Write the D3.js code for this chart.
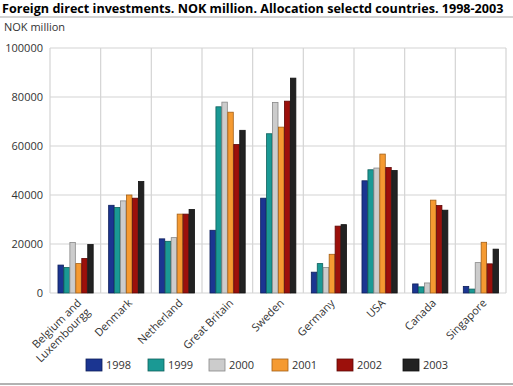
<!DOCTYPE html>
<html>
<head>
<meta charset="utf-8">
<script src="https://cdn.jsdelivr.net/npm/d3@7"></script>
<style>
  body { margin: 0; background: #fff; }
  svg { font-family: "Open Sans", "Noto Sans", sans-serif; }
</style>
</head>
<body>
<svg id="chart"></svg>
<script>
const countries = ["Belgium and\nLuxembourgg", "Denmark", "Netherland", "Great Britain", "Sweden", "Germany", "USA", "Canada", "Singapore"];
const years = ["1998", "1999", "2000", "2001", "2002", "2003"];
const colors = ["#1b3591", "#1a9994", "#cccccc", "#f59a31", "#9c100b", "#222222"];
const strokes = ["#0e1e5a", "#0d5f5b", "#888888", "#a45f15", "#5e0806", "#111111"];
const yTicks = [0, 20000, 40000, 60000, 80000, 100000];

// NOK million, one array per year, in country order
const v1998 = [11400, 35800, 22100, 25600, 38700, 8500, 45800, 3700, 2700];
const v1999 = [10400, 34900, 21100, 76000, 65000, 12000, 50300, 2500, 1600];
const v2000 = [20600, 37600, 22600, 77900, 77800, 10400, 51000, 4100, 12400];
const v2001 = [12000, 40000, 32200, 73800, 67700, 15800, 56700, 37900, 20700];
const v2002 = [14100, 38700, 32200, 60600, 78300, 27300, 51200, 35700, 11900];
const v2003 = [19800, 45500, 34100, 66400, 87700, 27900, 50000, 33800, 17900];
const series = [v1998, v1999, v2000, v2001, v2002, v2003];

const width = 513, height = 386;
const margin = {top: 48, right: 7, bottom: 93, left: 50};

const svg = d3.select("#chart").attr("width", width).attr("height", height);

// title and rules
svg.append("text").attr("x", 2).attr("y", 13)
    .attr("font-size", 12.6).attr("font-weight", "bold").attr("fill", "#000")
    .text("Foreign direct investments. NOK million. Allocation selectd countries. 1998-2003");
svg.append("line").attr("x1", 0).attr("x2", width).attr("y1", 17).attr("y2", 17)
    .attr("stroke", "#aaa").attr("stroke-width", 1.2);
svg.append("line").attr("x1", 0).attr("x2", width).attr("y1", 384).attr("y2", 384)
    .attr("stroke", "#999").attr("stroke-width", 1.5);
svg.append("text").attr("x", 4).attr("y", 31)
    .attr("font-size", 11).attr("fill", "#333").text("NOK million");

const x = d3.scaleBand().domain(countries)
    .range([margin.left, width - margin.right]);
const xInner = d3.scaleBand().domain(years)
    .range([0, x.bandwidth() * 0.705]);
const y = d3.scaleLinear().domain([0, 100000])
    .range([height - margin.bottom, margin.top]);

// grid
const g = svg.append("g");
g.selectAll(".hgrid").data(yTicks).join("line")
    .attr("x1", margin.left).attr("x2", width - margin.right)
    .attr("y1", d => y(d)).attr("y2", d => y(d))
    .attr("stroke", "#d4d4d4").attr("stroke-width", 1.2);
const vlines = countries.map(c => x(c)).concat([width - margin.right]);
g.selectAll(".vgrid").data(vlines).join("line")
    .attr("x1", d => d).attr("x2", d => d)
    .attr("y1", y(100000)).attr("y2", y(0))
    .attr("stroke", "#d4d4d4").attr("stroke-width", 1.2);

// y axis labels
svg.append("g").selectAll("text").data(yTicks).join("text")
    .attr("x", 43).attr("y", d => y(d)).attr("dy", "0.35em")
    .attr("text-anchor", "end").attr("font-size", 11).attr("fill", "#333")
    .text(d => d);

// bars
const offset = (x.bandwidth() - x.bandwidth() * 0.705) / 2;
series.forEach((vals, i) => {
    svg.append("g").selectAll("rect").data(vals).join("rect")
        .attr("x", (d, j) => x(countries[j]) + offset + xInner(years[i]) + 0.5)
        .attr("width", xInner.bandwidth() - 0.5)
        .attr("y", d => y(d))
        .attr("height", d => y(0) - y(d))
        .attr("fill", colors[i])
        .attr("stroke", strokes[i]).attr("stroke-width", 0.8);
});

// x labels, first line sits where a single label would, extra lines go below
const xl = svg.append("g").selectAll("text").data(countries).join("text")
    .attr("transform", d => `translate(${x(d) + x.bandwidth() / 2 + 4},${y(0) + 8}) rotate(-45)`)
    .attr("text-anchor", "end").attr("font-size", 11).attr("fill", "#333");
xl.each(function(d) {
    d3.select(this).selectAll("tspan").data(d.split("\n")).join("tspan")
        .attr("x", 0)
        .attr("dy", (l, k) => k === 0 ? "0.35em" : "1.15em")
        .text(l => l);
});

// legend
const legendX = [86, 148, 209, 272, 337, 403];
const leg = svg.append("g").selectAll("g").data(years).join("g")
    .attr("transform", (d, i) => `translate(${legendX[i]},359)`);
leg.append("rect").attr("width", 16).attr("height", 12)
    .attr("fill", (d, i) => colors[i]).attr("stroke", (d, i) => strokes[i]).attr("stroke-width", 0.8);
leg.append("text").attr("x", 20).attr("y", 6).attr("dy", "0.35em")
    .attr("font-size", 11).attr("fill", "#333").text(d => d);
</script>
</body>
</html>
